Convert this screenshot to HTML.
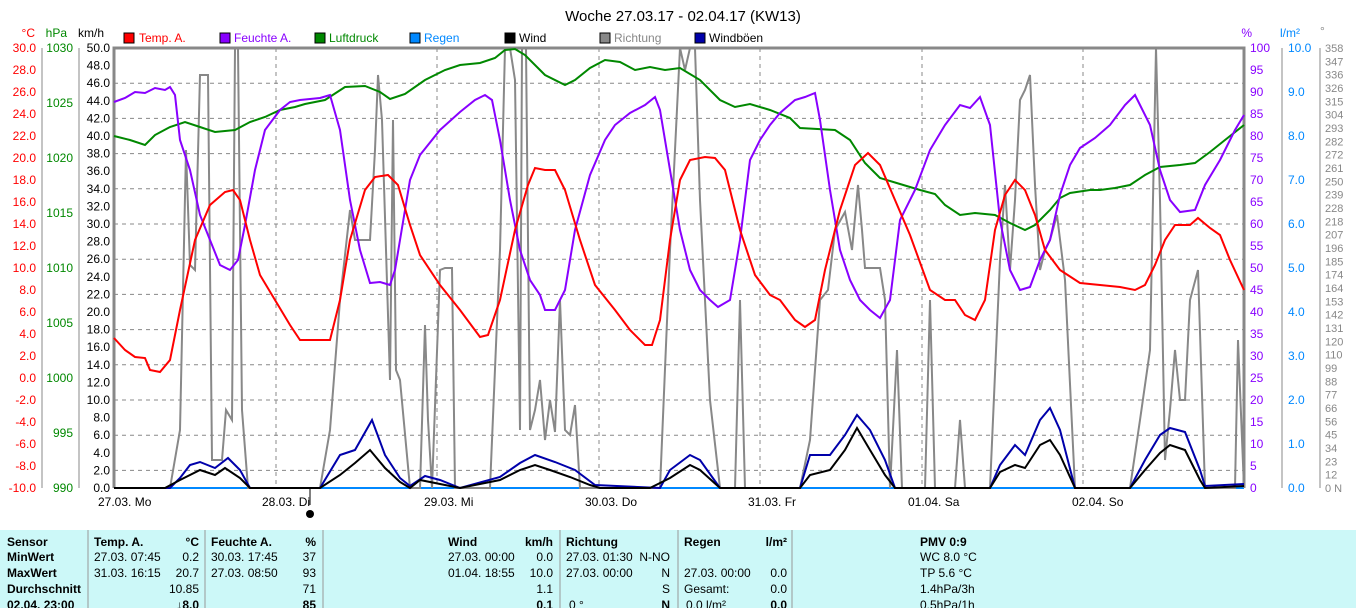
<!DOCTYPE html>
<html><head><meta charset="utf-8"><style>
body{margin:0;background:#fff;width:1356px;height:608px;overflow:hidden;font-family:"Liberation Sans",sans-serif}
svg text{font-family:"Liberation Sans",sans-serif}
</style></head><body>
<svg width="1356" height="608" xmlns="http://www.w3.org/2000/svg">
<text x="683" y="21" font-size="15" text-anchor="middle" fill="#000">Woche 27.03.17 - 02.04.17 (KW13)</text>
<g font-size="12">
<text x="35" y="37" fill="#f00" text-anchor="end">°C</text>
<text x="67" y="37" fill="#080" text-anchor="end">hPa</text>
<text x="104" y="37" fill="#000" text-anchor="end">km/h</text>
<text x="1252" y="37" fill="#80f" text-anchor="end">%</text>
<text x="1300" y="37" fill="#08f" text-anchor="end">l/m²</text>
<text x="1320" y="35" fill="#888">°</text>
<rect x="124" y="33" width="10" height="10" fill="#f00" stroke="#000"/><text x="139" y="42" fill="#f00">Temp. A.</text>
<rect x="220" y="33" width="10" height="10" fill="#80f" stroke="#000"/><text x="234" y="42" fill="#80f">Feuchte A.</text>
<rect x="315" y="33" width="10" height="10" fill="#080" stroke="#000"/><text x="329" y="42" fill="#080">Luftdruck</text>
<rect x="410" y="33" width="10" height="10" fill="#08f" stroke="#000"/><text x="424" y="42" fill="#08f">Regen</text>
<rect x="505" y="33" width="10" height="10" fill="#000" stroke="#000"/><text x="519" y="42" fill="#000">Wind</text>
<rect x="600" y="33" width="10" height="10" fill="#888" stroke="#000"/><text x="614" y="42" fill="#888">Richtung</text>
<rect x="695" y="33" width="10" height="10" fill="#00a" stroke="#000"/><text x="709" y="42" fill="#000">Windböen</text>
</g>
<!-- grid -->
<g stroke="#888" stroke-dasharray="4,4" stroke-width="1">
<line x1="114" x2="1244" y1="83.2" y2="83.2"/><line x1="114" x2="1244" y1="118.4" y2="118.4"/><line x1="114" x2="1244" y1="153.6" y2="153.6"/><line x1="114" x2="1244" y1="188.8" y2="188.8"/><line x1="114" x2="1244" y1="224" y2="224"/><line x1="114" x2="1244" y1="259.2" y2="259.2"/><line x1="114" x2="1244" y1="294.4" y2="294.4"/><line x1="114" x2="1244" y1="329.6" y2="329.6"/><line x1="114" x2="1244" y1="364.8" y2="364.8"/><line x1="114" x2="1244" y1="400" y2="400"/><line x1="114" x2="1244" y1="435.2" y2="435.2"/><line x1="114" x2="1244" y1="470.4" y2="470.4"/>
<line x1="276" x2="276" y1="48" y2="488"/><line x1="437" x2="437" y1="48" y2="488"/><line x1="599" x2="599" y1="48" y2="488"/><line x1="760" x2="760" y1="48" y2="488"/><line x1="922" x2="922" y1="48" y2="488"/><line x1="1083" x2="1083" y1="48" y2="488"/>
</g>
<g stroke="#888" stroke-width="3" fill="none"><polyline points="114,488 114,48 1244,48 1244,488"/></g>
<line x1="114" x2="1244" y1="488" y2="488" stroke="#08f" stroke-width="2"/>
<!-- axes -->
<g stroke="#888" stroke-width="1"><line x1="42" x2="42" y1="48" y2="488"/><line x1="79" x2="79" y1="48" y2="488"/><line x1="1282" x2="1282" y1="48" y2="488"/><line x1="1320" x2="1320" y1="48" y2="488"/></g>
<g font-size="12" fill="#f00" text-anchor="end">
<text x="36" y="52">30.0</text><text x="36" y="74">28.0</text><text x="36" y="96">26.0</text><text x="36" y="118">24.0</text><text x="36" y="140">22.0</text><text x="36" y="162">20.0</text><text x="36" y="184">18.0</text><text x="36" y="206">16.0</text><text x="36" y="228">14.0</text><text x="36" y="250">12.0</text><text x="36" y="272">10.0</text><text x="36" y="294">8.0</text><text x="36" y="316">6.0</text><text x="36" y="338">4.0</text><text x="36" y="360">2.0</text><text x="36" y="382">0.0</text><text x="36" y="404">-2.0</text><text x="36" y="426">-4.0</text><text x="36" y="448">-6.0</text><text x="36" y="470">-8.0</text><text x="36" y="492">-10.0</text>
</g>
<g font-size="12" fill="#080" text-anchor="end">
<text x="73" y="52">1030</text><text x="73" y="107">1025</text><text x="73" y="162">1020</text><text x="73" y="217">1015</text><text x="73" y="272">1010</text><text x="73" y="327">1005</text><text x="73" y="382">1000</text><text x="73" y="437">995</text><text x="73" y="492">990</text>
</g>
<g font-size="12" fill="#000" text-anchor="end">
<text x="110" y="52">50.0</text><text x="110" y="69.6">48.0</text><text x="110" y="87.2">46.0</text><text x="110" y="104.8">44.0</text><text x="110" y="122.4">42.0</text><text x="110" y="140">40.0</text><text x="110" y="157.6">38.0</text><text x="110" y="175.2">36.0</text><text x="110" y="192.8">34.0</text><text x="110" y="210.4">32.0</text><text x="110" y="228">30.0</text><text x="110" y="245.6">28.0</text><text x="110" y="263.2">26.0</text><text x="110" y="280.8">24.0</text><text x="110" y="298.4">22.0</text><text x="110" y="316">20.0</text><text x="110" y="333.6">18.0</text><text x="110" y="351.2">16.0</text><text x="110" y="368.8">14.0</text><text x="110" y="386.4">12.0</text><text x="110" y="404">10.0</text><text x="110" y="421.6">8.0</text><text x="110" y="439.2">6.0</text><text x="110" y="456.8">4.0</text><text x="110" y="474.4">2.0</text><text x="110" y="492">0.0</text>
</g>
<g font-size="12" fill="#80f">
<text x="1250" y="52">100</text><text x="1250" y="74">95</text><text x="1250" y="96">90</text><text x="1250" y="118">85</text><text x="1250" y="140">80</text><text x="1250" y="162">75</text><text x="1250" y="184">70</text><text x="1250" y="206">65</text><text x="1250" y="228">60</text><text x="1250" y="250">55</text><text x="1250" y="272">50</text><text x="1250" y="294">45</text><text x="1250" y="316">40</text><text x="1250" y="338">35</text><text x="1250" y="360">30</text><text x="1250" y="382">25</text><text x="1250" y="404">20</text><text x="1250" y="426">15</text><text x="1250" y="448">10</text><text x="1250" y="470">5</text><text x="1250" y="492">0</text>
</g>
<g font-size="12" fill="#08f">
<text x="1288" y="52">10.0</text><text x="1288" y="96">9.0</text><text x="1288" y="140">8.0</text><text x="1288" y="184">7.0</text><text x="1288" y="228">6.0</text><text x="1288" y="272">5.0</text><text x="1288" y="316">4.0</text><text x="1288" y="360">3.0</text><text x="1288" y="404">2.0</text><text x="1288" y="448">1.0</text><text x="1288" y="492">0.0</text>
</g>
<g font-size="11" fill="#888">
<text x="1325" y="52">358</text><text x="1325" y="65.3">347</text><text x="1325" y="78.7">336</text><text x="1325" y="92">326</text><text x="1325" y="105.3">315</text><text x="1325" y="118.7">304</text><text x="1325" y="132">293</text><text x="1325" y="145.3">282</text><text x="1325" y="158.7">272</text><text x="1325" y="172">261</text><text x="1325" y="185.3">250</text><text x="1325" y="198.7">239</text><text x="1325" y="212">228</text><text x="1325" y="225.3">218</text><text x="1325" y="238.7">207</text><text x="1325" y="252">196</text><text x="1325" y="265.3">185</text><text x="1325" y="278.7">174</text><text x="1325" y="292">164</text><text x="1325" y="305.3">153</text><text x="1325" y="318.7">142</text><text x="1325" y="332">131</text><text x="1325" y="345.3">120</text><text x="1325" y="358.7">110</text><text x="1325" y="372">99</text><text x="1325" y="385.3">88</text><text x="1325" y="398.7">77</text><text x="1325" y="412">66</text><text x="1325" y="425.3">56</text><text x="1325" y="438.7">45</text><text x="1325" y="452">34</text><text x="1325" y="465.3">23</text><text x="1325" y="478.7">12</text><text x="1325" y="492">0 N</text>
</g>
<g font-size="12" fill="#000">
<text x="98" y="506">27.03. Mo</text><text x="262" y="506">28.03. Di</text><text x="424" y="506">29.03. Mi</text><text x="585" y="506">30.03. Do</text><text x="748" y="506">31.03. Fr</text><text x="908" y="506">01.04. Sa</text><text x="1072" y="506">02.04. So</text>
</g>
<line x1="310" x2="310" y1="488" y2="505" stroke="#000"/>
<circle cx="310" cy="514" r="4" fill="#000"/>
<!-- series -->
<polyline fill="none" stroke="#888" stroke-width="2" points="114,488 170,488 180,430 186,150 190,265 195,270 200,75 208,75 212,460 222,460 226,410 232,420 235,48 238,48 242,410 248,488 320,488 330,430 340,300 350,210 355,240 370,240 375,150 378,75 382,120 390,380 393,120 396,370 400,380 410,488 420,488 425,325 428,420 432,488 440,270 445,268 452,268 455,488 490,488 500,250 505,48 510,48 515,80 520,430 522,48 526,48 530,430 535,410 540,380 545,440 550,400 555,432 560,300 565,430 570,435 575,405 580,488 660,488 670,250 675,150 680,48 685,70 690,48 695,48 700,200 710,400 720,488 735,488 740,300 745,488 800,488 810,440 820,300 828,290 835,230 845,212 852,250 858,185 862,230 865,268 880,268 885,300 890,488 897,350 902,488 925,488 930,300 935,488 955,488 960,420 965,488 990,488 1000,260 1005,185 1010,270 1015,200 1020,100 1025,90 1030,75 1035,185 1040,270 1045,250 1050,240 1057,215 1065,280 1075,488 1130,488 1140,420 1150,350 1156,48 1160,200 1165,460 1170,410 1175,350 1180,400 1185,400 1190,300 1198,270 1205,488 1235,488 1238,340 1244,488"/>
<polyline fill="none" stroke="#00a" stroke-width="2" points="114,488 170,488 180,478 190,465 200,462 215,468 228,458 240,470 250,488 320,488 340,455 355,450 372,420 385,455 400,478 410,486 425,476 440,480 460,488 500,477 520,463 535,455 555,462 575,470 595,485 660,488 670,470 690,455 700,460 720,488 800,488 810,455 830,455 845,435 857,415 870,430 885,460 895,488 990,488 1000,465 1015,445 1025,455 1040,420 1050,408 1060,430 1075,488 1130,488 1145,460 1160,435 1170,428 1185,432 1200,470 1205,486 1244,484"/>
<polyline fill="none" stroke="#000" stroke-width="2" points="114,488 165,488 180,480 200,470 215,475 225,468 240,478 250,488 320,488 340,475 355,463 370,450 385,468 400,482 410,488 420,480 440,484 460,488 500,480 520,470 535,465 550,470 570,477 590,485 600,488 650,488 670,478 690,465 700,470 720,488 800,488 810,475 830,470 845,450 857,428 870,450 885,475 895,488 990,488 1000,472 1015,465 1025,468 1040,445 1050,440 1060,455 1075,488 1130,488 1145,470 1160,453 1170,445 1185,450 1200,480 1205,488 1244,486"/>
<polyline fill="none" stroke="#080" stroke-width="2" points="114,136 130,140 145,145 155,135 170,127 185,122 200,127 215,132 235,130 250,122 265,117 280,110 295,107 305,104 325,100 345,87 365,86 380,92 390,99 405,94 425,80 445,70 460,65 480,63 495,58 505,50 515,49 525,55 545,75 565,85 575,80 590,68 605,60 620,62 635,70 650,67 665,70 680,68 700,80 720,100 735,107 750,104 770,110 790,118 800,128 835,130 850,140 865,163 880,178 900,184 920,190 935,194 945,205 960,215 975,213 995,215 1010,223 1025,230 1035,225 1050,210 1060,198 1070,193 1090,190 1100,190 1115,188 1130,185 1145,175 1160,167 1180,165 1195,163 1210,152 1225,140 1244,125"/>
<polyline fill="none" stroke="#80f" stroke-width="2" points="114,102 125,98 135,92 145,93 155,88 165,90 170,87 175,95 180,140 190,170 200,215 210,240 220,265 230,270 238,260 245,225 255,170 265,130 280,110 290,102 300,100 320,98 330,95 340,130 350,200 360,250 370,283 380,282 390,285 395,270 400,240 410,180 420,155 440,130 460,112 475,100 485,95 492,100 500,140 510,200 520,250 530,280 540,295 545,310 555,310 565,290 575,230 590,175 605,140 615,125 630,113 645,105 655,97 660,110 670,170 680,230 690,270 700,290 710,300 718,307 730,300 740,240 750,160 760,140 770,125 780,113 795,100 805,97 815,93 820,120 830,190 840,250 850,280 860,300 870,310 880,318 890,300 900,220 915,190 930,150 945,125 960,105 970,108 980,97 990,125 1000,220 1010,270 1020,290 1030,287 1040,260 1050,240 1060,195 1070,165 1080,148 1095,138 1110,125 1125,105 1135,95 1140,105 1150,125 1160,170 1170,200 1180,212 1195,210 1205,185 1220,160 1235,130 1244,115"/>
<polyline fill="none" stroke="#f00" stroke-width="2" points="114,338 125,350 135,357 145,358 150,370 160,372 170,360 180,310 195,240 210,205 225,192 233,190 240,200 250,240 260,275 275,300 290,325 300,340 330,340 340,300 350,240 365,190 375,177 388,175 398,185 410,225 420,255 440,285 460,310 480,337 488,335 500,300 515,230 528,185 535,168 545,170 555,170 565,190 580,240 595,285 615,310 630,330 645,345 652,345 660,320 670,240 680,180 690,160 705,157 715,158 725,170 740,230 755,275 770,295 780,300 795,320 805,327 815,320 825,270 840,210 855,165 868,153 880,165 895,200 910,235 930,290 945,300 955,300 965,315 975,320 985,300 995,230 1005,195 1015,180 1025,190 1035,215 1045,250 1060,270 1080,283 1100,285 1120,287 1135,290 1145,285 1155,265 1165,240 1175,225 1190,225 1198,218 1210,228 1220,235 1230,260 1244,290"/>
<!-- table -->
<rect x="0" y="530" width="1356" height="78" fill="#ccf8f8"/>
<g stroke="#999"><line x1="88" x2="88" y1="530" y2="608"/><line x1="205" x2="205" y1="530" y2="608"/><line x1="323" x2="323" y1="530" y2="608"/><line x1="560" x2="560" y1="530" y2="608"/><line x1="678" x2="678" y1="530" y2="608"/><line x1="792" x2="792" y1="530" y2="608"/></g>
<g font-size="12" fill="#000">
<g font-weight="bold"><text x="7" y="546">Sensor</text><text x="7" y="561">MinWert</text><text x="7" y="577">MaxWert</text><text x="7" y="593">Durchschnitt</text><text x="7" y="609">02.04. 23:00</text>
<text x="94" y="546">Temp. A.</text><text x="199" y="546" text-anchor="end">°C</text><text x="211" y="546">Feuchte A.</text><text x="316" y="546" text-anchor="end">%</text>
<text x="448" y="546">Wind</text><text x="553" y="546" text-anchor="end">km/h</text><text x="566" y="546">Richtung</text><text x="684" y="546">Regen</text><text x="787" y="546" text-anchor="end">l/m²</text><text x="920" y="546">PMV 0:9</text>
<text x="199" y="609" text-anchor="end">↓8.0</text><text x="316" y="609" text-anchor="end">85</text><text x="553" y="609" text-anchor="end">0.1</text><text x="670" y="609" text-anchor="end">N</text><text x="787" y="609" text-anchor="end">0.0</text></g>
<text x="94" y="561">27.03.  07:45</text><text x="199" y="561" text-anchor="end">0.2</text>
<text x="94" y="577">31.03.  16:15</text><text x="199" y="577" text-anchor="end">20.7</text>
<text x="199" y="593" text-anchor="end">10.85</text>
<text x="211" y="561">30.03.  17:45</text><text x="316" y="561" text-anchor="end">37</text>
<text x="211" y="577">27.03.  08:50</text><text x="316" y="577" text-anchor="end">93</text>
<text x="316" y="593" text-anchor="end">71</text>
<text x="448" y="561">27.03.  00:00</text><text x="553" y="561" text-anchor="end">0.0</text>
<text x="448" y="577">01.04.  18:55</text><text x="553" y="577" text-anchor="end">10.0</text>
<text x="553" y="593" text-anchor="end">1.1</text>
<text x="566" y="561">27.03.  01:30</text><text x="670" y="561" text-anchor="end">N-NO</text>
<text x="566" y="577">27.03.  00:00</text><text x="670" y="577" text-anchor="end">N</text>
<text x="670" y="593" text-anchor="end">S</text><text x="569" y="609">0 °</text>
<text x="684" y="577">27.03.  00:00</text><text x="787" y="577" text-anchor="end">0.0</text>
<text x="684" y="593">Gesamt:</text><text x="787" y="593" text-anchor="end">0.0</text>
<text x="686" y="609">0.0 l/m²</text>
<text x="920" y="561">WC 8.0 °C</text><text x="920" y="577">TP 5.6 °C</text><text x="920" y="593">1.4hPa/3h</text><text x="920" y="609">0.5hPa/1h</text>
</g>
</svg>
</body></html>
